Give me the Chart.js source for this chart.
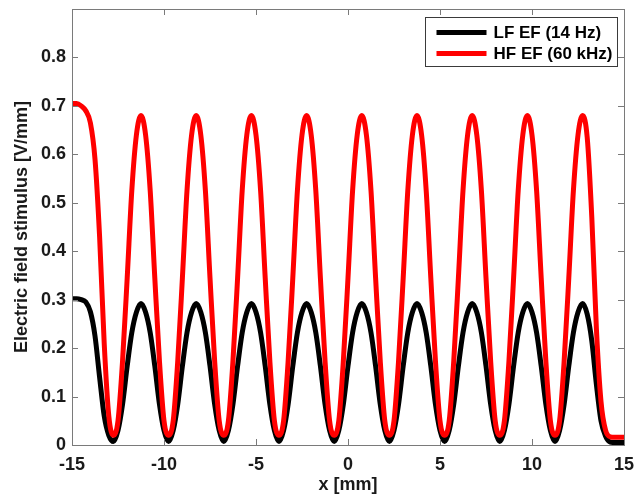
<!DOCTYPE html>
<html>
<head>
<meta charset="utf-8">
<script src="https://cdn.jsdelivr.net/npm/chart.js@4.4.1/dist/chart.umd.min.js"></script>
<style>
  html, body { margin: 0; padding: 0; background: #fff; }
  #wrap { width: 636px; height: 500px; }
</style>
</head>
<body>
<div id="wrap"><canvas id="fieldChart" width="636" height="500"></canvas></div>
<script>
// position along the fibre [mm], 0.25 mm apart
const xPos = [
  -15, -14.75, -14.5, -14.25, -14, -13.75, -13.5, -13.25, -13, -12.75,
  -12.5, -12.25, -12, -11.75, -11.5, -11.25, -11, -10.75, -10.5, -10.25, -10, -9.75,
  -9.5, -9.25, -9, -8.75, -8.5, -8.25, -8, -7.75, -7.5, -7.25, -7, -6.75,
  -6.5, -6.25, -6, -5.75, -5.5, -5.25, -5, -4.75, -4.5, -4.25, -4, -3.75,
  -3.5, -3.25, -3, -2.75, -2.5, -2.25, -2, -1.75, -1.5, -1.25, -1, -0.75,
  -0.5, -0.25, 0, 0.25, 0.5, 0.75, 1, 1.25, 1.5, 1.75, 2, 2.25,
  2.5, 2.75, 3, 3.25, 3.5, 3.75, 4, 4.25, 4.5, 4.75, 5, 5.25,
  5.5, 5.75, 6, 6.25, 6.5, 6.75, 7, 7.25, 7.5, 7.75, 8, 8.25,
  8.5, 8.75, 9, 9.25, 9.5, 9.75, 10, 10.25, 10.5, 10.75, 11, 11.25,
  11.5, 11.75, 12, 12.25, 12.5, 12.75, 13, 13.25, 13.5, 13.75, 14, 14.25, 14.5, 14.75, 15
];

// low-frequency field [V/mm]
const lfField = [
  0.302, 0.302, 0.300, 0.295, 0.275, 0.225, 0.140, 0.060, 0.020, 0.007,
  0.030, 0.085, 0.163, 0.232, 0.274, 0.292, 0.274, 0.232, 0.163, 0.085, 0.030, 0.007,
  0.030, 0.085, 0.163, 0.232, 0.274, 0.292, 0.274, 0.232, 0.163, 0.085, 0.030, 0.007,
  0.030, 0.085, 0.163, 0.232, 0.274, 0.292, 0.274, 0.232, 0.163, 0.085, 0.030, 0.007,
  0.030, 0.085, 0.163, 0.232, 0.274, 0.292, 0.274, 0.232, 0.163, 0.085, 0.030, 0.007,
  0.030, 0.085, 0.163, 0.232, 0.274, 0.292, 0.274, 0.232, 0.163, 0.085, 0.030, 0.007,
  0.030, 0.085, 0.163, 0.232, 0.274, 0.292, 0.274, 0.232, 0.163, 0.085, 0.030, 0.007,
  0.030, 0.085, 0.163, 0.232, 0.274, 0.292, 0.274, 0.232, 0.163, 0.085, 0.030, 0.007,
  0.030, 0.085, 0.163, 0.232, 0.274, 0.292, 0.274, 0.232, 0.163, 0.085, 0.030, 0.007,
  0.030, 0.085, 0.163, 0.232, 0.274, 0.292, 0.270, 0.215, 0.125, 0.050, 0.018, 0.006, 0.005, 0.005, 0.005
];

// high-frequency field [V/mm]
const hfField = [
  0.705, 0.705, 0.700, 0.690, 0.665, 0.590, 0.430, 0.210, 0.060, 0.020,
  0.050, 0.175, 0.345, 0.525, 0.640, 0.680, 0.640, 0.525, 0.345, 0.175, 0.050, 0.020,
  0.050, 0.175, 0.345, 0.525, 0.640, 0.680, 0.640, 0.525, 0.345, 0.175, 0.050, 0.020,
  0.050, 0.175, 0.345, 0.525, 0.640, 0.680, 0.640, 0.525, 0.345, 0.175, 0.050, 0.020,
  0.050, 0.175, 0.345, 0.525, 0.640, 0.680, 0.640, 0.525, 0.345, 0.175, 0.050, 0.020,
  0.050, 0.175, 0.345, 0.525, 0.640, 0.680, 0.640, 0.525, 0.345, 0.175, 0.050, 0.020,
  0.050, 0.175, 0.345, 0.525, 0.640, 0.680, 0.640, 0.525, 0.345, 0.175, 0.050, 0.020,
  0.050, 0.175, 0.345, 0.525, 0.640, 0.680, 0.640, 0.525, 0.345, 0.175, 0.050, 0.020,
  0.050, 0.175, 0.345, 0.525, 0.640, 0.680, 0.640, 0.525, 0.345, 0.175, 0.050, 0.020,
  0.050, 0.175, 0.345, 0.525, 0.640, 0.680, 0.635, 0.470, 0.240, 0.090, 0.030, 0.017, 0.016, 0.016, 0.016
];

const seriesNames = ["LF EF (14 Hz)", "HF EF (60 kHz)"];
const seriesColors = ["#000000", "#ff0000"];

const toPoints = vals => vals.map((v, i) => ({ x: xPos[i], y: v }));

Chart.defaults.font.family = "'Liberation Sans', Arial, sans-serif";
Chart.defaults.font.weight = "bold";
Chart.defaults.color = "#1a1a1a";

// box around the axes, inward ticks on all four sides, boxed legend
const matlabAxes = {
  id: "matlabAxes",
  afterDatasetsDraw(chart) {
    const { ctx, chartArea: a, scales: { x, y } } = chart;
    const tick = 6;
    ctx.save();
    ctx.strokeStyle = "#7a7a7a";
    ctx.lineWidth = 1;
    ctx.beginPath();
    x.ticks.forEach(t => {
      const px = Math.round(x.getPixelForValue(t.value)) + 0.5;
      ctx.moveTo(px, a.bottom); ctx.lineTo(px, a.bottom - tick);
      ctx.moveTo(px, a.top); ctx.lineTo(px, a.top + tick);
    });
    y.ticks.forEach(t => {
      const py = Math.round(y.getPixelForValue(t.value)) + 0.5;
      ctx.moveTo(a.left, py); ctx.lineTo(a.left + tick, py);
      ctx.moveTo(a.right, py); ctx.lineTo(a.right - tick, py);
    });
    ctx.stroke();
    ctx.strokeRect(Math.round(a.left) + 0.5, Math.round(a.top) + 0.5,
      Math.round(a.right - a.left), Math.round(a.bottom - a.top));

    // legend
    const w = 192, h = 49;
    const lx = Math.round(a.right - 7 - w) + 0.5, ly = Math.round(a.top + 8) + 0.5;
    ctx.fillStyle = "#ffffff";
    ctx.fillRect(lx, ly, w, h);
    ctx.strokeStyle = "#3a3a3a";
    ctx.strokeRect(lx, ly, w, h);
    ctx.font = "bold 17px 'Liberation Sans', Arial, sans-serif";
    ctx.textBaseline = "middle";
    chart.data.datasets.forEach((ds, i) => {
      const ry = ly + 15 + i * 21;
      ctx.strokeStyle = ds.borderColor;
      ctx.lineWidth = 5;
      ctx.beginPath();
      ctx.moveTo(lx + 11, ry); ctx.lineTo(lx + 61, ry);
      ctx.stroke();
      ctx.fillStyle = "#000";
      ctx.fillText(ds.label, lx + 68, ry + 1);
    });
    ctx.restore();
  }
};

new Chart(document.getElementById("fieldChart"), {
  type: "line",
  data: {
    datasets: [
      { label: seriesNames[0], data: toPoints(lfField), borderColor: seriesColors[0], order: 1 },
      { label: seriesNames[1], data: toPoints(hfField), borderColor: seriesColors[1], order: 0 }
    ]
  },
  options: {
    responsive: false,
    animation: false,
    layout: { padding: { top: 9, right: 12, left: 0, bottom: 0 } },
    elements: {
      point: { radius: 0 },
      line: { borderWidth: 5, cubicInterpolationMode: "monotone", fill: false }
    },
    plugins: { legend: { display: false }, tooltip: { enabled: false } },
    scales: {
      x: {
        type: "linear",
        min: -15, max: 15,
        grid: { display: false, drawTicks: false },
        border: { display: false },
        ticks: { stepSize: 5, padding: 9, font: { size: 18, weight: "bold" }, maxRotation: 0 },
        title: { display: true, text: "x [mm]", font: { size: 18, weight: "bold" }, padding: { top: 0, bottom: 4 } },
        afterFit: s => { s.height = 55; s.paddingLeft = 0; s.paddingRight = 0; }
      },
      y: {
        min: 0, max: 0.9,
        grid: { display: false, drawTicks: false },
        border: { display: false },
        ticks: {
          stepSize: 0.1, padding: 6, font: { size: 18, weight: "bold" },
          callback: v => v > 0.85 ? "" : String(Math.round(v * 10) / 10)
        },
        title: { display: true, text: "Electric field stimulus [V/mm]", font: { size: 18, weight: "bold" }, padding: { top: 11, bottom: 0 } },
        afterFit: s => { s.width = 72; s.paddingTop = 0; s.paddingBottom = 0; }
      }
    }
  },
  plugins: [matlabAxes]
});
</script>
</body>
</html>
